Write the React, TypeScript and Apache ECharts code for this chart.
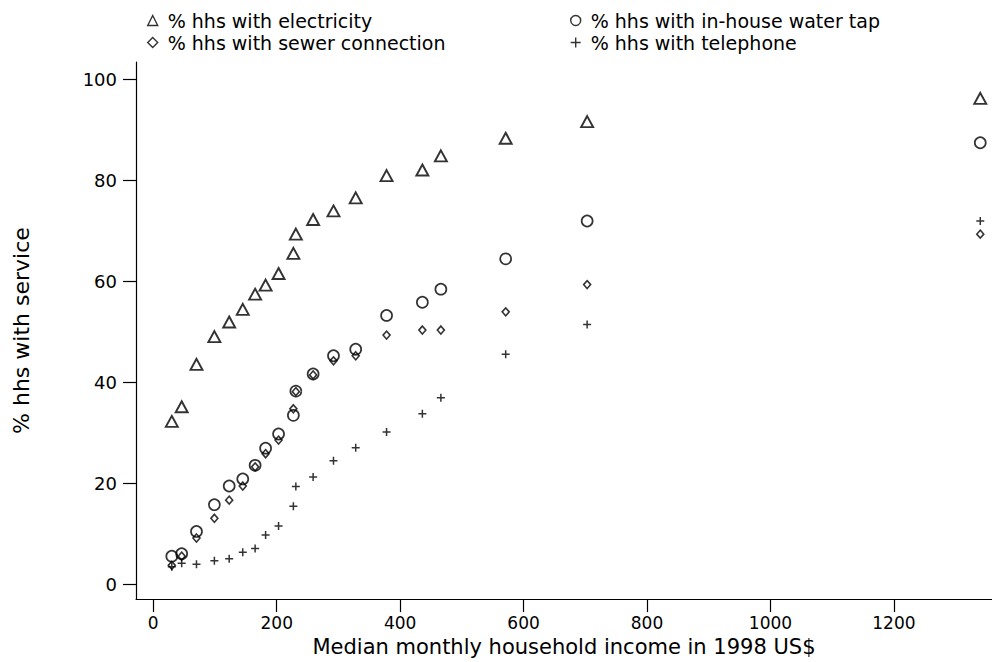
import React, { useEffect, useRef } from "react";
import * as echarts from "echarts";

// Median monthly household income (1998 US$) of each group
const incomes = [30, 46, 70, 99, 123, 145, 165, 182, 203, 227, 231, 259, 292, 328, 378, 436, 466, 571, 703, 1340];
const electricity = [32.3, 35.2, 43.6, 49.1, 52.0, 54.5, 57.5, 59.3, 61.6, 65.6, 69.4, 72.3, 74.0, 76.6, 81.0, 82.1, 84.9, 88.4, 91.7, 96.3];
const waterTap = [5.6, 6.1, 10.5, 15.8, 19.5, 20.9, 23.6, 27.0, 29.8, 33.5, 38.3, 41.7, 45.3, 46.6, 53.3, 55.9, 58.5, 64.5, 72.0, 87.5];
const sewer = [3.8, 5.6, 9.2, 13.1, 16.7, 19.5, 23.3, 25.9, 28.6, 34.8, 38.2, 41.5, 44.3, 45.3, 49.4, 50.4, 50.4, 54.0, 59.4, 69.4];
const telephone = [3.5, 4.2, 4.0, 4.7, 5.1, 6.4, 7.1, 9.8, 11.6, 15.5, 19.4, 21.3, 24.5, 27.1, 30.2, 33.8, 37.0, 45.6, 51.5, 72.0];

const xTicks = [0, 200, 400, 600, 800, 1000, 1200];
const yTicks = [0, 20, 40, 60, 80, 100];

const NAME_ELEC = "% hhs with electricity";
const NAME_WATER = "% hhs with in-house water tap";
const NAME_SEWER = "% hhs with sewer connection";
const NAME_TEL = "% hhs with telephone";

const xTitle = "Median monthly household income in 1998 US$";
const yTitle = "% hhs with service";

const PLUS = "path://M5,0L5,10M0,5L10,5";
const FONT = "DejaVu Sans";

const hollow = (w: number) => ({ color: "rgba(0,0,0,0)", borderColor: "#000", borderWidth: w });

export default function App() {
  const ref = useRef<HTMLDivElement>(null);

  useEffect(() => {
    if (!ref.current) return;
    const chart = echarts.init(ref.current, undefined, { renderer: "svg" });
    const pts = (arr: number[]) => incomes.map((x, i) => [x, arr[i]]);

    const mkSeries = (name: string, arr: number[], symbol: string, size: any, bw: number) => ({
      type: "scatter",
      name,
      data: pts(arr),
      symbol,
      symbolSize: size,
      itemStyle: hollow(bw),
      emphasis: { disabled: true },
      z: 3,
    });

    const legendText = { fontFamily: FONT, fontSize: 19, lineHeight: 19, color: "#000", padding: [0, 0, 0, 5] };

    chart.setOption({
      animation: false,
      backgroundColor: "#fff",
      textStyle: { fontFamily: FONT },
      grid: { left: 136, right: 0, top: 62, bottom: 55, containLabel: false },
      legend: [
        {
          orient: "vertical",
          left: 142,
          top: 6,
          itemGap: 3,
          itemWidth: 10,
          itemHeight: 10,
          selectedMode: false,
          textStyle: legendText,
          data: [
            { name: NAME_ELEC, icon: "triangle", itemStyle: hollow(1.4) },
            { name: NAME_SEWER, icon: "diamond", itemStyle: hollow(1.4) },
          ],
        },
        {
          orient: "vertical",
          left: 565,
          top: 6,
          itemGap: 3,
          itemWidth: 10,
          itemHeight: 10,
          selectedMode: false,
          textStyle: legendText,
          data: [
            { name: NAME_WATER, icon: "circle", itemStyle: hollow(1.4) },
            { name: NAME_TEL, icon: PLUS, itemStyle: hollow(1.4) },
          ],
        },
      ],
      xAxis: {
        type: "value",
        min: -28,
        max: 1359,
        name: xTitle,
        nameLocation: "middle",
        nameGap: 33,
        nameTextStyle: { fontFamily: FONT, fontSize: 21, color: "#000" },
        axisLine: { onZero: false, lineStyle: { color: "#000", width: 1.2 } },
        axisTick: { show: true, length: 13, customValues: xTicks, lineStyle: { color: "#000", width: 1.2 } },
        axisLabel: {
          customValues: xTicks,
          formatter: (v: number) => String(v),
          margin: 15,
          fontFamily: FONT,
          fontSize: 17,
          color: "#000",
        },
        splitLine: { show: false },
      },
      yAxis: {
        type: "value",
        min: -2.9,
        max: 103.5,
        name: yTitle,
        nameLocation: "middle",
        nameGap: 104,
        nameRotate: 90,
        nameTextStyle: { fontFamily: FONT, fontSize: 22, color: "#000" },
        axisLine: { onZero: false, lineStyle: { color: "#000", width: 1.2 } },
        axisTick: { show: true, length: 13, customValues: yTicks, lineStyle: { color: "#000", width: 1.2 } },
        axisLabel: {
          customValues: yTicks,
          formatter: (v: number) => String(v),
          margin: 19,
          fontFamily: FONT,
          fontSize: 18,
          color: "#000",
        },
        splitLine: { show: false },
      },
      series: [
        mkSeries(NAME_ELEC, electricity, "triangle", [12, 11], 1.9),
        mkSeries(NAME_WATER, waterTap, "circle", 11, 1.7),
        mkSeries(NAME_SEWER, sewer, "diamond", [7, 8], 1.6),
        mkSeries(NAME_TEL, telephone, PLUS, 8, 1.5),
      ],
    });

    return () => chart.dispose();
  }, []);

  return <div ref={ref} style={{ position: "absolute", left: 0, top: 0, width: 992, height: 662 }} />;
}
